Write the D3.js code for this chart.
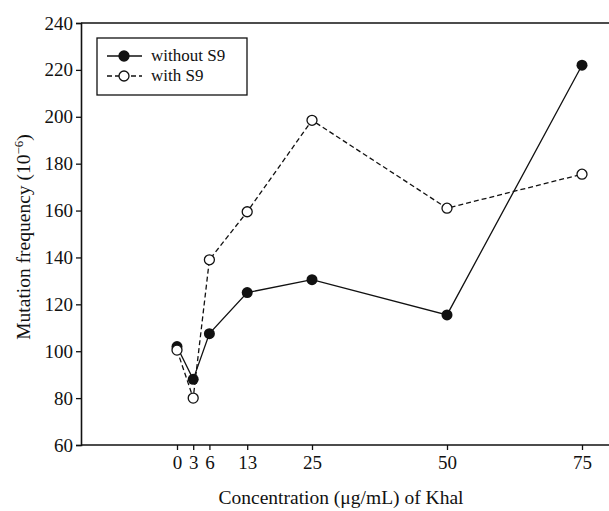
<!DOCTYPE html>
<html>
<head>
<meta charset="utf-8">
<script src="https://cdn.jsdelivr.net/npm/d3@7"></script>
<style>
  body { margin: 0; background: #fff; }
  text { font-family: "Liberation Serif", "DejaVu Serif", serif; fill: #111; }
</style>
</head>
<body>
<div id="container"></div>
<script>
const concentrations = [0, 3, 6, 13, 25, 50, 75];
const withoutS9 = [102, 88, 107.5, 125, 130.5, 115.5, 222];
const withS9 = [100.5, 80, 139, 159.5, 198.5, 161, 175.5];
const yTicks = [60, 80, 100, 120, 140, 160, 180, 200, 220, 240];

const W = 609, H = 511;
const margin = { top: 23, right: 0, bottom: 66, left: 81 };

const x = d3.scaleLinear().domain([0, 75]).range([177, 582]);
const y = d3.scaleLinear().domain([60, 240]).range([H - margin.bottom, margin.top]);

const svg = d3.select("#container").append("svg")
  .attr("width", W).attr("height", H);

// top border (the right side is cut off in the original)
svg.append("line")
  .attr("x1", margin.left).attr("x2", W).attr("y1", y(240)).attr("y2", y(240))
  .attr("stroke", "#111").attr("stroke-width", 1.6);

const yAxis = svg.append("g")
  .attr("transform", `translate(${margin.left},0)`)
  .call(d3.axisLeft(y).tickValues(yTicks).tickSize(5).tickPadding(3));
const xAxis = svg.append("g")
  .attr("transform", `translate(0,${y(60)})`)
  .call(d3.axisBottom(x).tickValues(concentrations).tickSize(5).tickPadding(6));
xAxis.select(".domain").attr("d", `M${margin.left},0H${W}`);

[yAxis, xAxis].forEach((g) => {
  g.select(".domain").attr("stroke", "#111").attr("stroke-width", 1.6);
  g.selectAll(".tick line").attr("stroke", "#111").attr("stroke-width", 1.3);
  g.selectAll(".tick text").attr("font-size", 19).attr("font-family", "Liberation Serif").attr("fill", "#111");
});

const line = d3.line().x((d, i) => x(concentrations[i])).y((d) => y(d));

svg.append("path").datum(withS9)
  .attr("d", line).attr("fill", "none").attr("stroke", "#111")
  .attr("stroke-width", 1.3).attr("stroke-dasharray", "5,3");
svg.append("path").datum(withoutS9)
  .attr("d", line).attr("fill", "none").attr("stroke", "#111").attr("stroke-width", 1.3);

svg.selectAll("circle.without").data(withoutS9).join("circle")
  .attr("class", "without")
  .attr("cx", (d, i) => x(concentrations[i])).attr("cy", (d) => y(d))
  .attr("r", 5.5).attr("fill", "#111");
svg.selectAll("circle.with").data(withS9).join("circle")
  .attr("class", "with")
  .attr("cx", (d, i) => x(concentrations[i])).attr("cy", (d) => y(d))
  .attr("r", 5).attr("fill", "#fff").attr("stroke", "#111").attr("stroke-width", 1.3);

// legend
const legend = svg.append("g").attr("transform", "translate(97,38)");
legend.append("rect").attr("width", 150).attr("height", 57)
  .attr("fill", "#fff").attr("stroke", "#111").attr("stroke-width", 1.3);
const items = [
  { label: "without S9", dash: null, fill: "#111" },
  { label: "with S9", dash: "5,3", fill: "#fff" },
];
items.forEach((d, i) => {
  const cy = 18 + i * 20;
  legend.append("line").attr("x1", 10).attr("x2", 45).attr("y1", cy).attr("y2", cy)
    .attr("stroke", "#111").attr("stroke-width", 1.3).attr("stroke-dasharray", d.dash);
  legend.append("circle").attr("cx", 27).attr("cy", cy).attr("r", 5)
    .attr("fill", d.fill).attr("stroke", "#111").attr("stroke-width", 1.3);
  legend.append("text").attr("x", 54).attr("y", cy + 5).attr("font-size", 17).text(d.label);
});

// axis titles
svg.append("text")
  .attr("x", 341).attr("y", 504).attr("text-anchor", "middle").attr("font-size", 19.5)
  .text("Concentration (μg/mL) of Khal");
const yl = svg.append("text")
  .attr("transform", `translate(30,237) rotate(-90)`)
  .attr("text-anchor", "middle").attr("font-size", 19.5);
yl.append("tspan").text("Mutation frequency (10");
yl.append("tspan").attr("dy", -7).attr("font-size", 13).text("−6");
yl.append("tspan").attr("dy", 7).text(")");
</script>
</body>
</html>
